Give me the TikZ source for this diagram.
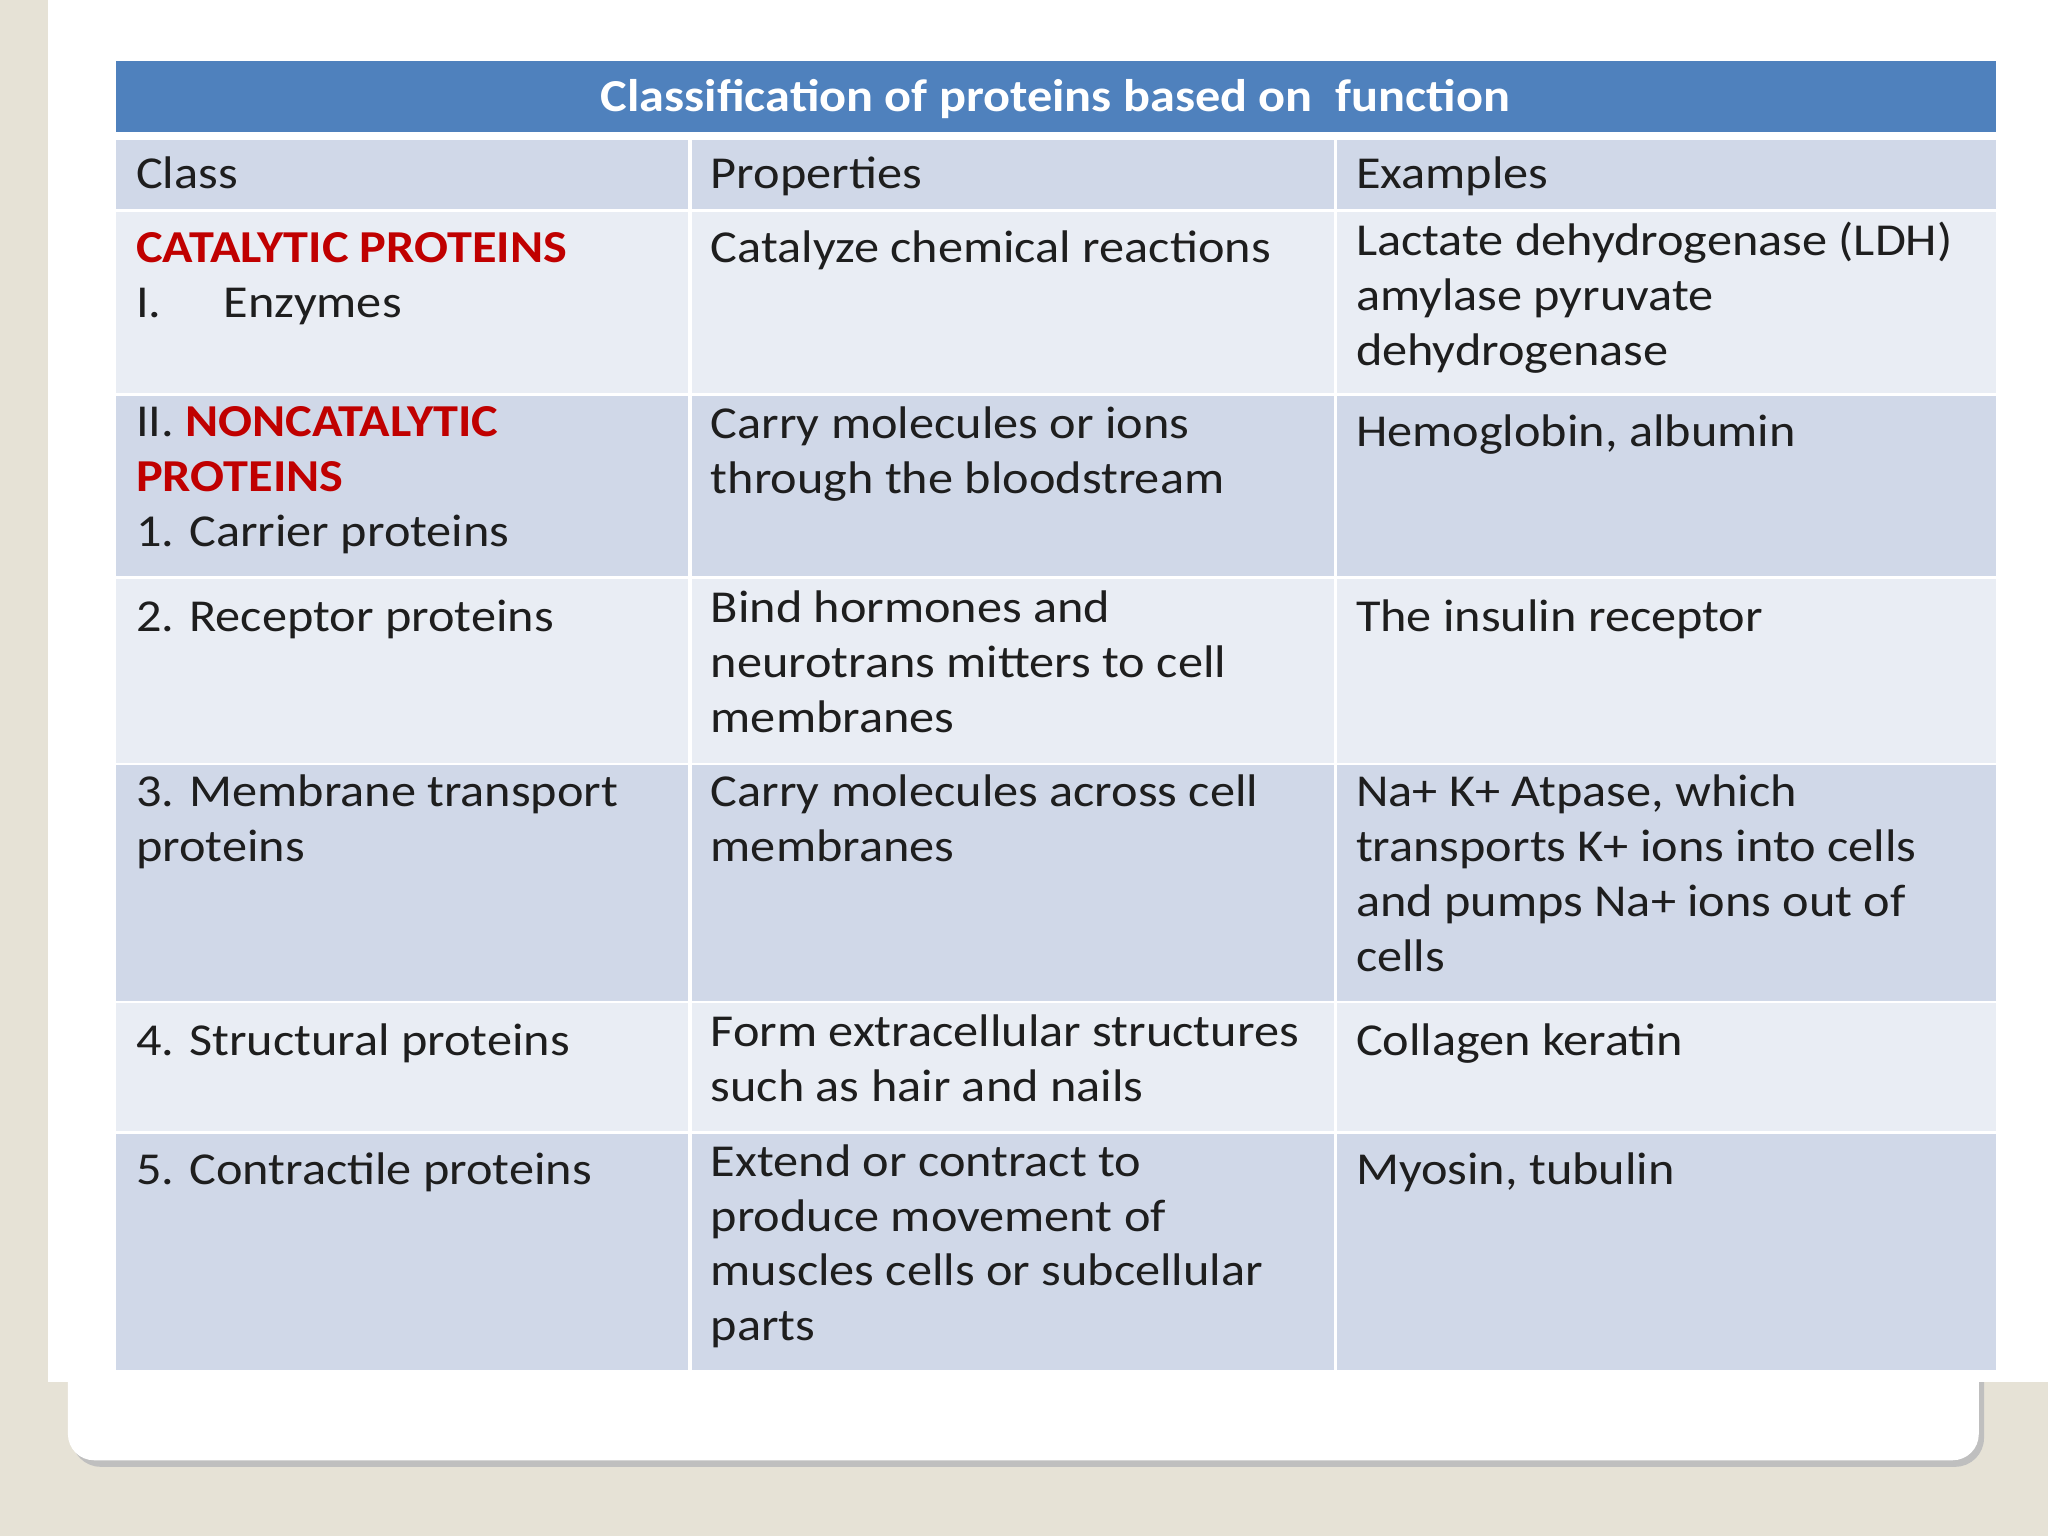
\documentclass[tikz,border=0pt]{standalone}
\usepackage{fontspec}
\setmainfont{Carlito}[FakeStretch=1.1]
\definecolor{bg}{HTML}{E6E2D6}
\definecolor{hdr}{HTML}{4F81BD}
\definecolor{dk}{HTML}{D0D8E8}
\definecolor{lt}{HTML}{E9EDF4}
\definecolor{rd}{HTML}{C00000}
\definecolor{tx}{HTML}{1E1E1E}
\tikzset{
  cell/.style={anchor=north west,inner sep=0pt,align=left,text=tx,yshift=31pt,
    font=\fontsize{35}{42}\selectfont,execute at begin node={\rule{0pt}{31pt}}},
  red/.style={text=rd,font=\fontsize{35}{42}\selectfont\bfseries}
}
\begin{document}
\begin{tikzpicture}[x=1pt,y=-1pt]
\useasboundingbox (0,0) rectangle (1568,1176);
\fill[bg] (0,0) rectangle (1568,1176);
\fill[black!25,rounded corners=22] (55,1000) rectangle (1519,1123);
\fill[white,rounded corners=20] (52,1000) rectangle (1515,1118);
\fill[white] (37,0) rectangle (1568,1058);
% header
\fill[hdr] (89,47) rectangle (1528,101);
\node[inner sep=0pt,text=white,font=\fontsize{35}{40}\selectfont\bfseries] (title) at (808,76) {Classification of proteins based on\ \ function};
% rows
\foreach \ya/\yb/\c in {107/160/dk,162/301/lt,303/441/dk,443/584/lt,586/766/dk,768/866/lt,868/1049/dk}{
  \fill[\c] (89,\ya) rectangle (527,\yb);
  \fill[\c] (530,\ya) rectangle (1021,\yb);
  \fill[\c] (1024,\ya) rectangle (1528,\yb);
}
% header row
\node[cell] (h1) at (104,144) {Class};
\node[cell] (h2) at (544,144) {Properties};
\node[cell] (h3) at (1038,144) {Examples};
% row1
\node[cell,red] (c1) at (104,201) {CATALYTIC PROTEINS};
\node[cell] (c1b) at (104,243) {I.};
\node[cell] (c1c) at (171,243) {Enzymes};
\node[cell] (p1) at (544,201) {Catalyze chemical reactions};
\node[cell] (e1) at (1038,201) {Lactate dehydrogenase (LDH)\\amylase pyruvate\\dehydrogenase};
% row2
\node[cell] (c2) at (104,342) {II. \textcolor{rd}{\bfseries NONCATALYTIC}\\\textcolor{rd}{\bfseries PROTEINS}\\1. Carrier proteins};
\node[cell] (p2) at (544,342) {Carry molecules or ions\\through the bloodstream};
\node[cell] (e2) at (1038,342) {Hemoglobin, albumin};
% row3
\node[cell] (c3) at (104,483) {2. Receptor proteins};
\node[cell] (p3) at (544,483) {Bind hormones and\\neurotrans mitters to cell\\membranes};
\node[cell] (e3) at (1038,483) {The insulin receptor};
% row4
\node[cell] (c4) at (104,624) {3. Membrane transport\\proteins};
\node[cell] (p4) at (544,624) {Carry molecules across cell\\membranes};
\node[cell] (e4) at (1038,624) {Na+ K+ Atpase, which\\transports K+ ions into cells\\and pumps Na+ ions out of\\cells};
% row5
\node[cell] (c5) at (104,808) {4. Structural proteins};
\node[cell] (p5) at (544,808) {Form extracellular structures\\such as hair and nails};
\node[cell] (e5) at (1038,808) {Collagen keratin};
% row6
\node[cell] (c6) at (104,907) {5. Contractile proteins};
\node[cell] (p6) at (544,907) {Extend or contract to\\produce movement of\\muscles cells or subcellular\\parts};
\node[cell] (e6) at (1038,907) {Myosin, tubulin};
\end{tikzpicture}
\end{document}
